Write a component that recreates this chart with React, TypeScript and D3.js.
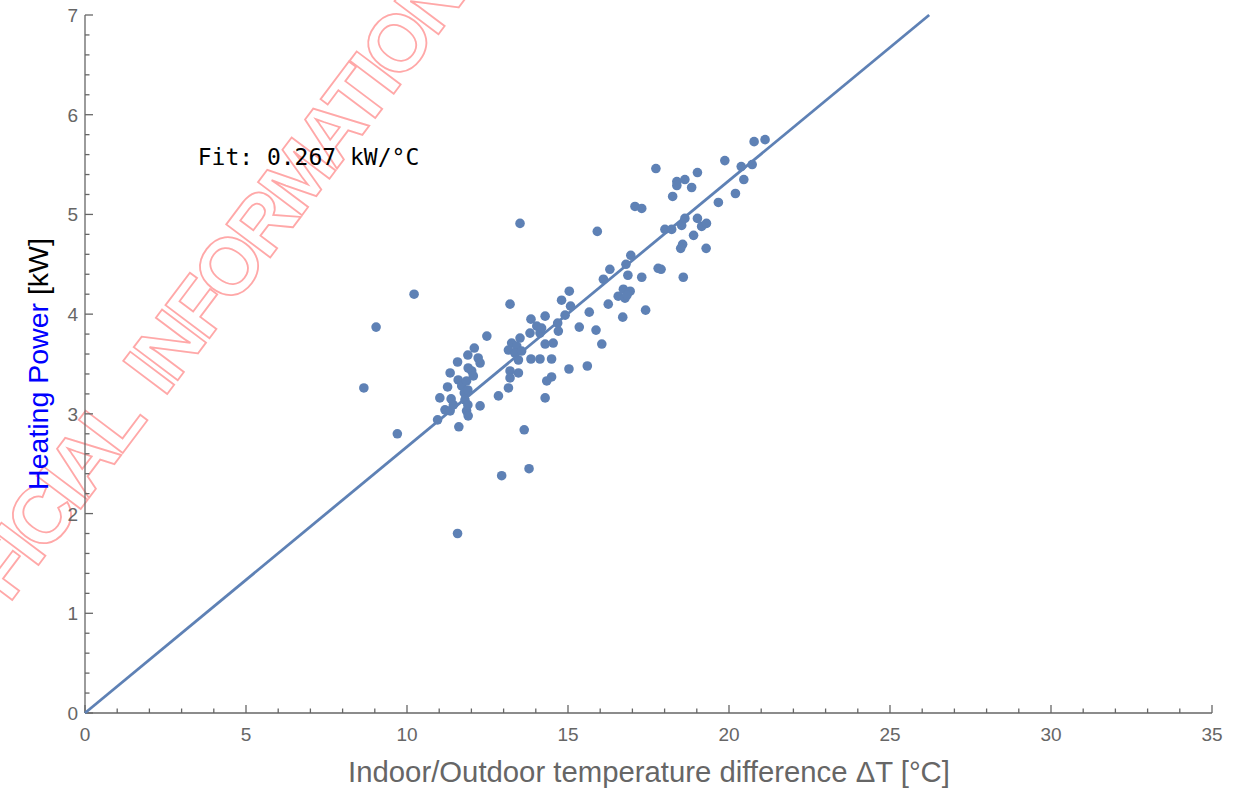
import * as d3 from "d3";
import React from "react";

// measured points: indoor/outdoor temperature difference (°C) vs heating power (kW)
const deltaT = [
  8.66, 9.04, 9.70, 10.22, 10.95, 11.02, 11.26, 11.18, 11.34, 11.34, 11.37, 11.44,
  11.57, 11.59, 11.61, 11.70, 11.78, 11.80, 11.85, 11.85, 11.89, 11.89, 11.89, 11.90,
  11.90, 12.01, 12.06, 12.09, 12.21, 12.27, 12.27, 11.57, 12.48, 12.84, 12.94, 13.20,
  13.15, 13.20, 13.20, 13.25, 13.15, 13.41, 13.35, 13.46, 13.46, 13.51, 13.56, 13.51,
  13.64, 13.79, 13.82, 13.85, 14.03, 14.13, 13.85, 14.13, 14.18, 14.29, 14.29, 14.54,
  14.49, 14.49, 14.34, 14.29, 14.68, 14.70, 14.80, 14.91, 15.04, 15.08, 15.03, 15.35,
  15.60, 15.66, 15.87, 15.91, 16.05, 16.10, 16.25, 16.30, 16.56, 16.70, 16.72, 16.77,
  16.80, 16.86, 16.93, 16.95, 16.83, 17.08, 17.29, 17.29, 17.41, 17.73, 17.80, 17.89,
  18.01, 18.22, 18.25, 18.38, 18.38, 18.53, 18.56, 18.50, 18.58, 18.63, 18.63, 18.84,
  18.90, 19.02, 19.02, 19.15, 19.30, 19.29, 19.67, 19.87, 20.20, 20.38, 20.46, 20.72,
  20.78, 21.12,
];
const power = [
  3.26, 3.87, 2.80, 4.20, 2.94, 3.16, 3.27, 3.04, 3.41, 3.03, 3.15, 3.09,
  3.52, 3.34, 2.87, 3.28, 3.21, 3.14, 3.33, 3.03, 3.59, 3.24, 3.09, 3.46,
  2.98, 3.43, 3.38, 3.66, 3.56, 3.51, 3.08, 1.80, 3.78, 3.18, 2.38, 4.10,
  3.26, 3.43, 3.36, 3.71, 3.64, 3.68, 3.61, 3.54, 3.41, 3.76, 3.63, 4.91,
  2.84, 2.45, 3.81, 3.95, 3.88, 3.81, 3.55, 3.55, 3.86, 3.98, 3.70, 3.71,
  3.55, 3.37, 3.33, 3.16, 3.91, 3.83, 4.14, 3.99, 4.23, 4.08, 3.45, 3.87,
  3.48, 4.02, 3.84, 4.83, 3.70, 4.35, 4.10, 4.45, 4.18, 3.97, 4.25, 4.16,
  4.50, 4.39, 4.23, 4.59, 4.19, 5.08, 5.06, 4.37, 4.04, 5.46, 4.46, 4.45,
  4.85, 4.85, 5.18, 5.33, 5.29, 4.89, 4.70, 4.66, 4.37, 5.35, 4.96, 5.27,
  4.79, 5.42, 4.96, 4.88, 4.91, 4.66, 5.12, 5.54, 5.21, 5.48, 5.35, 5.50,
  5.73, 5.75,
];
const fitSlope = 0.267;
const xTicks = [0, 5, 10, 15, 20, 25, 30, 35];
const yTicks = [0, 1, 2, 3, 4, 5, 6, 7];

const App = () => {
  const width = 1244;
  const height = 790;
  const blue = "#5e81b5";
  const grey = "#666666";

  const xScale = d3.scaleLinear().domain([0, 35]).range([85, 1212]);
  const yScale = d3.scaleLinear().domain([0, 7]).range([713, 15]);

  const xMinor = d3.range(0, 36, 1).filter((v) => v % 5 !== 0);
  const yMinor = d3.range(0, 7.01, 0.2).filter((v) => Math.abs(v - Math.round(v)) > 0.01);

  const fitLine = d3
    .line<number>()
    .x((d) => xScale(d))
    .y((d) => yScale(fitSlope * d));
  const fitPath = fitLine([0, 7 / fitSlope]);

  return (
    <svg
      width={width}
      height={height}
      style={{ position: "absolute", left: 0, top: 0, background: "#fff" }}
      fontFamily="Liberation Sans, Arial, sans-serif"
    >
      {/* watermark */}
      <g transform="translate(141,381) rotate(-53)" fill="none" stroke="#ffa8a8" strokeWidth={1.8}
         fontSize={80} fontWeight="bold" fontFamily="Liberation Sans, Arial, sans-serif" letterSpacing={-5}>
        <text x={-30} y={0} dy="0.36em" textAnchor="end">UNOFFICIAL</text>
        <text x={0} y={0} dy="0.36em" textAnchor="start">INFORMATION</text>
      </g>

      {/* axes */}
      <g stroke={grey} strokeWidth={1.3}>
        <line x1={xScale(0)} x2={xScale(35)} y1={yScale(0)} y2={yScale(0)} />
        <line x1={xScale(0)} x2={xScale(0)} y1={yScale(0)} y2={yScale(7)} />
        {xTicks.map((t) => (
          <line key={"xt" + t} x1={xScale(t)} x2={xScale(t)} y1={yScale(0)} y2={yScale(0) - 8} />
        ))}
        {xMinor.map((t) => (
          <line key={"xm" + t} x1={xScale(t)} x2={xScale(t)} y1={yScale(0)} y2={yScale(0) - 4.5} />
        ))}
        {yTicks.map((t) => (
          <line key={"yt" + t} x1={xScale(0)} x2={xScale(0) + 8} y1={yScale(t)} y2={yScale(t)} />
        ))}
        {yMinor.map((t) => (
          <line key={"ym" + t} x1={xScale(0)} x2={xScale(0) + 4.5} y1={yScale(t)} y2={yScale(t)} />
        ))}
      </g>
      <g fill={grey} fontSize={19}>
        {xTicks.map((t) => (
          <text key={"xl" + t} x={xScale(t)} y={yScale(0) + 28} textAnchor="middle">{t}</text>
        ))}
        {yTicks.map((t) => (
          <text key={"yl" + t} x={xScale(0) - 7} y={yScale(t) + 7} textAnchor="end">{t}</text>
        ))}
      </g>

      {/* axis titles */}
      <text x={649} y={782} textAnchor="middle" fontSize={29.3} fill={grey}>
        Indoor/Outdoor temperature difference ΔT [°C]
      </text>
      <text transform="translate(48,364) rotate(-90)" textAnchor="middle" fontSize={28.5}>
        <tspan fill="#0000ff">Heating Power</tspan>
        <tspan fill="#000"> [kW]</tspan>
      </text>

      {/* fit line */}
      <path d={fitPath ?? ""} fill="none" stroke={blue} strokeWidth={2.8} />

      {/* points */}
      <g fill={blue}>
        {deltaT.map((d, i) => (
          <circle key={i} cx={xScale(d)} cy={yScale(power[i])} r={4.8} />
        ))}
      </g>

      <text x={xScale(3.5)} y={yScale(5.5)} fontSize={23}
        fontFamily="DejaVu Sans Mono, Liberation Mono, monospace" fill="#000">
        Fit: 0.267 kW/°C
      </text>
    </svg>
  );
};

export default App;
